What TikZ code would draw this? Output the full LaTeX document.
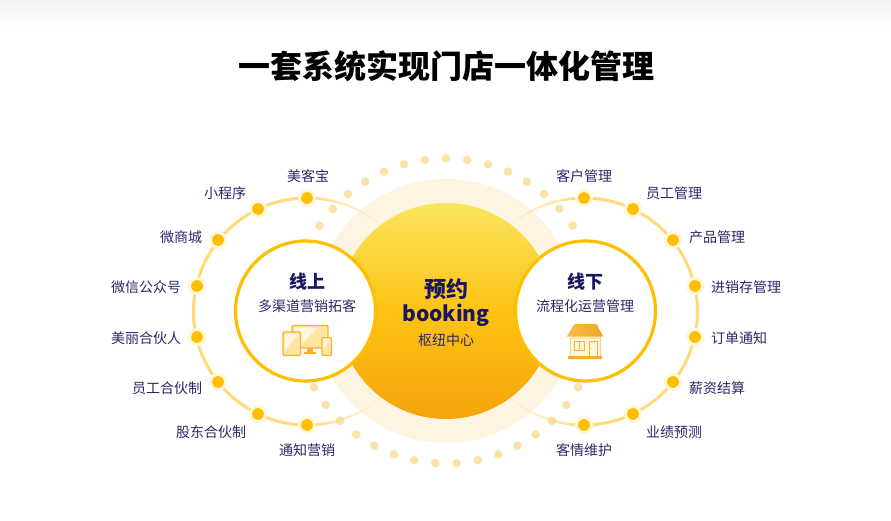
\documentclass[tikz,border=0pt]{standalone}
\usepackage{fontspec}
\setmainfont{Noto Sans CJK SC}
\definecolor{ink}{HTML}{1A1660}
\definecolor{inkk}{HTML}{2C2868}
\definecolor{gold}{HTML}{FFBE00}
\definecolor{orbit}{HTML}{FFDB78}
\definecolor{dotc}{HTML}{FAE2A8}
\definecolor{halo}{HTML}{FDF5E2}
\definecolor{icon}{HTML}{FBB02A}
\definecolor{iconf}{HTML}{FFE4A4}
\definecolor{iconl}{HTML}{FFF6E0}
\definecolor{sunA}{HTML}{FBE561}
\definecolor{sunB}{HTML}{FDC314}
\definecolor{sunC}{HTML}{F5A40C}
\tikzset{
 lab/.style={text=inkk,font=\fontsize{14}{16}\selectfont,inner sep=0pt,anchor=center},
 spot/.style={circle,fill=gold,draw=gold!14,line width=3pt,minimum size=15pt,inner sep=0pt},
 ring/.style={circle,fill=white,draw=gold,line width=3.2pt,minimum size=140pt,inner sep=0pt},
 orb/.style={draw=orbit,line width=3pt},
 ic/.style={draw=icon,line width=1.2pt,fill=iconf,rounded corners=1pt},
 head/.style={text=ink,font=\bfseries\fontsize{18}{20}\selectfont,inner sep=0pt},
 hub/.style={text=ink,font=\bfseries\fontsize{22}{24}\selectfont,inner sep=0pt},
 hublatin/.style={text=ink,font=\bfseries\fontsize{21}{24}\selectfont,inner sep=0pt},
}
\begin{document}
\begin{tikzpicture}[x=1pt,y=-1pt]
\useasboundingbox (0,0) rectangle (891,521);
\fill[white] (0,0) rectangle (891,521);
\shade[top color=black!5,bottom color=white] (0,0) rectangle (891,26);
\node[font=\bfseries\fontsize{32}{36}\selectfont,text=black,inner sep=0pt] (title) at (446,66) {一套系统实现门店一体化管理};

% halo and sun
\node[circle,fill=halo,minimum size=264pt,inner sep=0pt] (halo) at (446,311) {};
\shade[top color=sunA,bottom color=sunC,middle color=sunB] (446,311) circle[radius=108pt];

% dotted arcs
\foreach \a in {34,42,...,146,210,218,...,330}
  \fill[dotc] ({446+152.6*cos(\a)},{311-152.6*sin(\a)}) circle[radius=4.3pt];

% orbits: main arcs
\draw[orb] plot[domain=90:270,samples=60,smooth] ({307+113.5*cos(\x)},{311.5-113.5*sin(\x)});
\draw[orb] plot[domain=90:-90,samples=60,smooth] ({584+113.5*cos(\x)},{311.5-113.5*sin(\x)});
% orbits: fading tails
\foreach \i in {0,...,21}{
  \pgfmathsetmacro{\op}{1-\i/23}
  \pgfmathsetmacro{\lw}{3-2.4*\i/22}
  \pgfmathsetmacro{\p}{90-2*\i}\pgfmathsetmacro{\q}{90-2*\i-2}
  \pgfmathsetmacro{\r}{90+2*\i}\pgfmathsetmacro{\s}{90+2*\i+2}
  \draw[draw=orbit,opacity=\op,line width=\lw pt]
    ({307+113.5*cos(\p)},{311.5-113.5*sin(\p)}) -- ({307+113.5*cos(\q)},{311.5-113.5*sin(\q)});
  \draw[draw=orbit,opacity=\op,line width=\lw pt]
    ({307+113.5*cos(\p)},{311.5+113.5*sin(\p)}) -- ({307+113.5*cos(\q)},{311.5+113.5*sin(\q)});
  \draw[draw=orbit,opacity=\op,line width=\lw pt]
    ({584+113.5*cos(\r)},{311.5-113.5*sin(\r)}) -- ({584+113.5*cos(\s)},{311.5-113.5*sin(\s)});
  \draw[draw=orbit,opacity=\op,line width=\lw pt]
    ({584+113.5*cos(\r)},{311.5+113.5*sin(\r)}) -- ({584+113.5*cos(\s)},{311.5+113.5*sin(\s)});
}

% rings
\node[ring] (online) at (305.5,311) {};
\node[ring] (offline) at (585.5,311) {};

% orbit spots
\foreach \n/\x/\y in {a/307/198,b/258/209,c/218/240,d/197/286,e/197/337,f/218/382,g/258/414,h/307/425,
  i/584/198,j/633/209,k/673/240,l/695/286,m/695/337,n/673/382,o/633/414,p/584/425}
  \node[spot] (s\n) at (\x,\y) {};

% labels
\node[lab] (la) at (308,176) {美客宝};
\node[lab] (lb) at (225,193) {小程序};
\node[lab] (lc) at (181,237) {微商城};
\node[lab] (ld) at (146,287) {微信公众号};
\node[lab] (le) at (146,338) {美丽合伙人};
\node[lab] (lf) at (167,388) {员工合伙制};
\node[lab] (lg) at (211,432) {股东合伙制};
\node[lab] (lh) at (307,450) {通知营销};
\node[lab] (li) at (584,176) {客户管理};
\node[lab] (lj) at (674,193) {员工管理};
\node[lab] (lk) at (717,237) {产品管理};
\node[lab] (ll) at (746,287) {进销存管理};
\node[lab] (lm) at (739,338) {订单通知};
\node[lab] (ln) at (717,388) {薪资结算};
\node[lab] (lo) at (674,432) {业绩预测};
\node[lab] (lp) at (584,450) {客情维护};

% hub text
\node[hub] (h1) at (446,289) {预约};
\node[hublatin] (h2) at (446,315) {booking};
\node[lab] (h3) at (446,340) {枢纽中心};
\node[head] (on1) at (307,282) {线上};
\node[lab] (on2) at (307,306) {多渠道营销拓客};
\node[head] (off1) at (585,282) {线下};
\node[lab] (off2) at (585,306) {流程化运营管理};

% devices icon
\draw[ic] (292,325.5) rectangle (328,348);
\fill[iconl] (294,327.5) -- (318,327.5) -- (300,346) -- (294,346) -- cycle;
\fill[icon] (307,348) rectangle (313,352);
\fill[icon] (304,352) rectangle (316,354);
\draw[ic] (283,332) rectangle (300.5,355.5);
\fill[iconl] (284.5,333.5) -- (299,333.5) -- (284.5,351) -- cycle;
\draw[ic] (322,337.5) rectangle (331.5,355.5);
\fill[iconl] (323,338.5) -- (330.5,338.5) -- (323,350) -- cycle;

% house icon
\shade[left color=icon!85!white,right color=icon!95!black,rounded corners=0.5pt] (566.7,336.7) -- (574.5,324) -- (596.5,324) -- (603.3,336.7) -- cycle;
\draw[draw=icon!60,line width=1pt,fill=iconl] (570.5,337) rectangle (600.5,356);
\fill[iconf] (571,337) rectangle (600,339);
\draw[draw=icon,line width=1pt,fill=iconl] (574.5,341.7) rectangle (584.5,350);
\draw[draw=icon,line width=0.8pt] (579.5,341.7) -- (579.5,350);
\draw[draw=icon,line width=1pt,fill=iconl] (589.5,341.7) rectangle (597,356);
\fill[icon] (591,349) circle[radius=0.6pt];
\fill[icon!90!orange,rounded corners=0.5pt] (568,356) rectangle (602,359);
\end{tikzpicture}
\end{document}
